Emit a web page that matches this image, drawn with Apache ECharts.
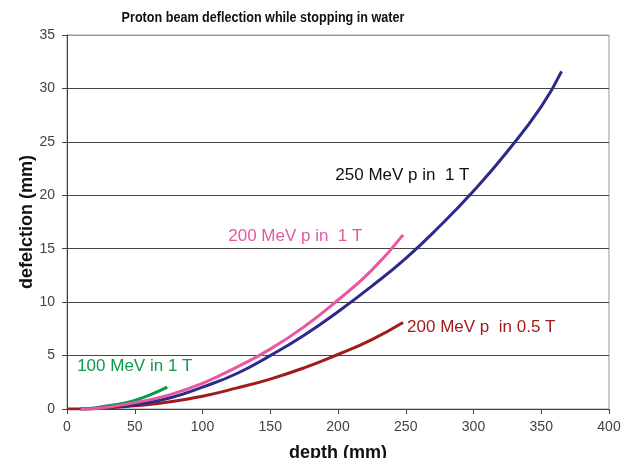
<!DOCTYPE html>
<html>
<head>
<meta charset="utf-8">
<script src="https://cdn.jsdelivr.net/npm/echarts@6/dist/echarts.min.js"></script>
<style>
  html, body { margin: 0; padding: 0; background: #fff; }
  #chart { width: 630px; height: 458px; }
</style>
</head>
<body>
<div id="chart"></div>
<script>
// 数据 (depth mm -> deflection mm)
const depth250 = [10, 25, 50, 75, 100, 125, 150, 175, 200, 225, 250, 275, 300, 325, 350, 365]
const defl250 = [0, 0.1, 0.4, 1.0, 2.05, 3.3, 5.0, 6.9, 9.1, 11.5, 14.1, 17.1, 20.4, 24.1, 28.3, 31.6]

const depth200 = [10, 25, 50, 75, 100, 125, 150, 175, 200, 225, 248]
const defl200 = [0, 0.1, 0.6, 1.3, 2.4, 3.9, 5.6, 7.7, 10.2, 13.0, 16.3]

const depth200half = [0, 10, 25, 50, 75, 100, 125, 150, 175, 200, 225, 248]
const defl200half = [0, 0, 0.05, 0.3, 0.65, 1.2, 1.95, 2.8, 3.85, 5.1, 6.5, 8.1]

const depth100 = [10, 20, 30, 40, 50, 60, 74]
const defl100 = [0, 0.1, 0.3, 0.5, 0.8, 1.25, 2.05]

const yTicks = [0, 5, 10, 15, 20, 25, 30, 35]
const xTicks = [0, 50, 100, 150, 200, 250, 300, 350, 400]

const titleText = 'Proton beam deflection while stopping in water'

// 注释文字 (data coordinates of left edge)
const notes = [
  { text: '250 MeV p in  1 T', at: [198, 21.9], color: '#111111' },
  { text: '200 MeV p in  1 T', at: [119, 16.2], color: '#e8579f' },
  { text: '200 MeV p  in 0.5 T', at: [251, 7.6], color: '#a01c1c' },
  { text: '100 MeV in 1 T', at: [7.5, 4.0], color: '#0a9a4a' }
]

const pairs = (xs, ys) => xs.map((x, i) => [x, ys[i]])

const lineSeries = (name, xs, ys, color) => ({
  name,
  type: 'line',
  data: pairs(xs, ys),
  smooth: true,
  symbol: 'none',
  lineStyle: { color, width: 3 },
  z: 3
})

const chart = echarts.init(document.getElementById('chart'), null, { renderer: 'canvas' })

chart.setOption({
  animation: false,
  backgroundColor: '#fff',
  textStyle: { fontFamily: 'Liberation Sans, Arial, sans-serif' },
  grid: {
    left: 67, right: 21, top: 35, bottom: 49,
    outerBoundsMode: 'none',
    containLabel: false,
    show: true, borderColor: '#999', borderWidth: 1
  },
  xAxis: {
    type: 'value',
    min: 0, max: 400, interval: 50,
    name: 'depth (mm)',
    nameLocation: 'middle',
    nameGap: 35,
    nameMoveOverlap: false,
    nameTextStyle: { fontSize: 18, fontWeight: 'bold', color: '#111' },
    axisLine: { lineStyle: { color: '#444', width: 1 } },
    axisTick: { show: true, length: 5, lineStyle: { color: '#444' } },
    axisLabel: { fontSize: 14, color: '#444', margin: 11 },
    splitLine: { show: false }
  },
  yAxis: {
    type: 'value',
    min: 0, max: 35, interval: 5,
    name: 'defelction (mm)',
    nameLocation: 'middle',
    nameGap: 31,
    nameMoveOverlap: false,
    nameTextStyle: { fontSize: 18, fontWeight: 'bold', color: '#111' },
    axisLine: { show: true, lineStyle: { color: '#444', width: 1 } },
    axisTick: { show: true, length: 5, lineStyle: { color: '#444' } },
    axisLabel: { fontSize: 14, color: '#444', margin: 12 },
    splitLine: {
      show: true,
      lineStyle: { color: yTicks.map((t, i) => (i === yTicks.length - 1 ? '#999' : '#444')), width: 1 }
    }
  },
  series: [
    lineSeries('100 MeV in 1 T', depth100, defl100, '#0a9a4a'),
    lineSeries('200 MeV p in 0.5 T', depth200half, defl200half, '#a01c1c'),
    lineSeries('250 MeV p in 1 T', depth250, defl250, '#2b2b8c'),
    lineSeries('200 MeV p in 1 T', depth200, defl200, '#e8579f')
  ]
})

// 标题 + 标注文字
const noteGraphics = notes.map(n => {
  const p = chart.convertToPixel({ gridIndex: 0 }, n.at)
  return {
    type: 'text',
    x: p[0],
    y: p[1],
    z: 10,
    style: {
      text: n.text,
      fill: n.color,
      font: '17px "Liberation Sans", Arial, sans-serif',
      verticalAlign: 'middle',
      align: 'left'
    }
  }
})

chart.setOption({
  graphic: [
    {
      type: 'text',
      x: 263,
      y: 18,
      scaleX: 0.9,
      z: 10,
      style: {
        text: titleText,
        fill: '#111',
        font: 'bold 14px "Liberation Sans", Arial, sans-serif',
        align: 'center',
        verticalAlign: 'middle'
      }
    },
    ...noteGraphics
  ]
})
</script>
</body>
</html>
